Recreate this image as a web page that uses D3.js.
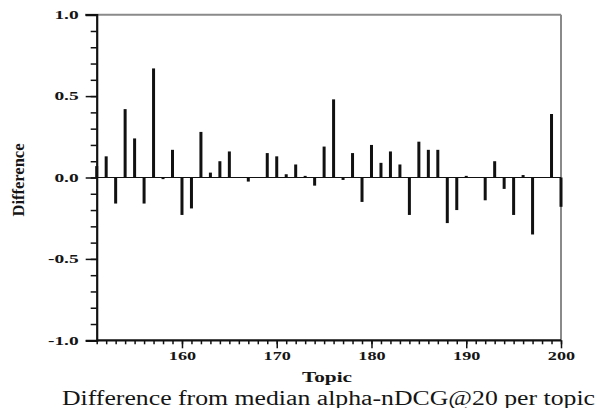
<!DOCTYPE html>
<html>
<head>
<meta charset="utf-8">
<script src="https://cdn.jsdelivr.net/npm/d3@7"></script>
<style>
  body { margin: 0; background: #fff; }
  svg { display: block; }
  text { font-family: "Liberation Serif", "DejaVu Serif", serif; fill: #151515; }
</style>
</head>
<body>
<div id="chart"></div>
<script>
// topics 151..200 and difference from median alpha-nDCG@20
var topics = d3.range(151, 201);
var diffs = [
  0.07, 0.13, -0.16, 0.42, 0.24, -0.16, 0.67, -0.01, 0.17, -0.23,
  -0.19, 0.28, 0.03, 0.10, 0.16, 0.00, -0.025, 0.00, 0.15, 0.13,
  0.02, 0.08, 0.01, -0.05, 0.19, 0.48, -0.015, 0.15, -0.15, 0.20,
  0.09, 0.16, 0.08, -0.23, 0.22, 0.17, 0.17, -0.28, -0.20, 0.01,
  0.00, -0.14, 0.10, -0.07, -0.23, 0.015, -0.35, 0.00, 0.39, -0.18
];
var yTicks = [-1, -0.5, 0, 0.5, 1];
var xTicks = [160, 170, 180, 190, 200];

var W = 597, H = 408;

var svg = d3.select("#chart").append("svg")
    .attr("width", W)
    .attr("height", H);

var x = d3.scaleLinear().domain([151, 200]).range([96.7, 561]);
var y = d3.scaleLinear().domain([-1, 1]).range([340.3, 14.7]);

// frame (top + right), grey
svg.append("line")
    .attr("x1", 85).attr("x2", x(200))
    .attr("y1", y(1)).attr("y2", y(1))
    .attr("stroke", "#8a8a8a").attr("stroke-width", 2);
svg.append("line")
    .attr("x1", x(200)).attr("x2", x(200))
    .attr("y1", y(1)).attr("y2", y(-1))
    .attr("stroke", "#8a8a8a").attr("stroke-width", 2);

// zero line
svg.append("line")
    .attr("x1", x(151)).attr("x2", x(200))
    .attr("y1", y(0)).attr("y2", y(0))
    .attr("stroke", "#111").attr("stroke-width", 1.2);

// bars
svg.append("g").selectAll("rect")
    .data(topics)
    .enter().append("rect")
    .attr("x", function(d) { return x(d) - 1.5; })
    .attr("width", 3)
    .attr("y", function(d, i) { return y(Math.max(0, diffs[i])); })
    .attr("height", function(d, i) { return Math.abs(y(diffs[i]) - y(0)); })
    .attr("fill", "#111");

// y axis minor ticks
var yMinor = svg.append("g")
    .attr("transform", "translate(" + x(151) + ",0)")
    .call(d3.axisLeft(y).tickValues(d3.range(-10, 11).map(function(v) { return v / 10; }))
        .tickSize(6).tickFormat(""));
yMinor.select(".domain").remove();

// y axis major
var yAxis = svg.append("g")
    .attr("transform", "translate(" + x(151) + ",0)")
    .call(d3.axisLeft(y).tickValues(yTicks).tickSize(11).tickPadding(7)
        .tickFormat(function(d) { return d.toFixed(1); }));
yAxis.select(".domain").attr("stroke-width", 2.2).attr("stroke", "#111");
yAxis.selectAll("text")
    .attr("font-size", 12)
    .attr("font-weight", "bold")
    .attr("font-family", "Liberation Serif")
    .attr("transform", "scale(1.62,1)")
    .attr("x", -18 / 1.62);

// x axis minor ticks
var xMinor = svg.append("g")
    .attr("transform", "translate(0," + y(-1) + ")")
    .call(d3.axisBottom(x).tickValues(topics).tickSize(4).tickFormat(""));
xMinor.select(".domain").remove();

// x axis major
var xAxis = svg.append("g")
    .attr("transform", "translate(0," + y(-1) + ")")
    .call(d3.axisBottom(x).tickValues(xTicks).tickSize(8).tickPadding(2));
xAxis.select(".domain").attr("stroke-width", 2.2).attr("stroke", "#111")
    .attr("d", "M" + x(151) + ",0H" + x(200));
xAxis.selectAll("text")
    .attr("font-size", 13)
    .attr("font-weight", "bold")
    .attr("font-family", "Liberation Serif")
    .attr("transform", "scale(1.4,1)")
    .attr("x", 0);

svg.selectAll(".tick line").attr("stroke", "#111").attr("stroke-width", 1.5);

// axis titles
svg.append("text")
    .attr("transform", "translate(327,381.5) scale(1.42,1)")
    .attr("text-anchor", "middle")
    .attr("font-size", 15)
    .attr("font-weight", "bold")
    .text("Topic");

svg.append("text")
    .attr("transform", "translate(24,180) rotate(-90)")
    .attr("text-anchor", "middle")
    .attr("font-size", 17)
    .attr("font-weight", "bold")
    .attr("textLength", 73)
    .attr("lengthAdjust", "spacingAndGlyphs")
    .text("Difference");

// caption
svg.append("text")
    .attr("x", 62)
    .attr("y", 405)
    .attr("font-size", 20)
    .attr("font-family", "Liberation Serif")
    .attr("textLength", 533)
    .attr("lengthAdjust", "spacingAndGlyphs")
    .text("Difference from median alpha-nDCG@20 per topic");
</script>
</body>
</html>
